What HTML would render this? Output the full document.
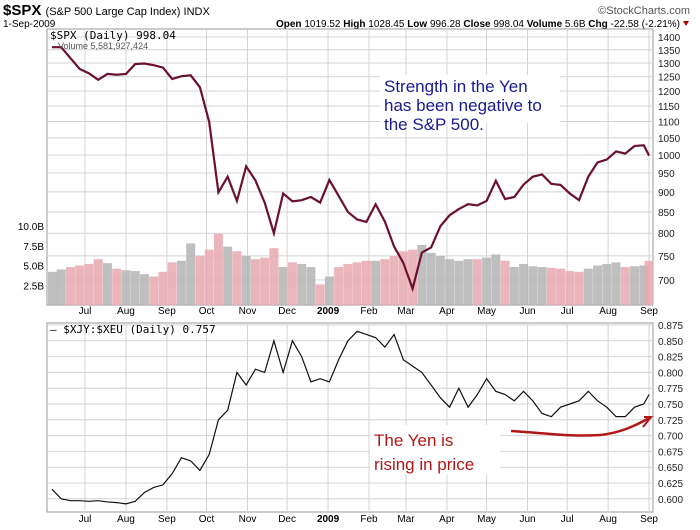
<!DOCTYPE html>
<html><head><meta charset="utf-8"><style>
body{margin:0;background:#fff;width:700px;height:530px;overflow:hidden}
svg{display:block;font-family:"Liberation Sans",sans-serif}
</style></head><body>
<svg id="c" width="700" height="530">
<g>
<text x="3" y="15" font-size="15" font-weight="bold">$SPX <tspan font-size="11" font-weight="normal">(S&amp;P 500 Large Cap Index) INDX</tspan></text>
<text x="690" y="14" font-size="11" fill="#555" text-anchor="end">©StockCharts.com</text>
<text x="3" y="27" font-size="10">1-Sep-2009</text>
<text x="680" y="27" font-size="10" text-anchor="end"><tspan font-weight="bold">Open</tspan> 1019.52 <tspan font-weight="bold">High</tspan> 1028.45 <tspan font-weight="bold">Low</tspan> 996.28 <tspan font-weight="bold">Close</tspan> 998.04 <tspan font-weight="bold">Volume</tspan> 5.6B <tspan font-weight="bold">Chg</tspan> -22.58 (-2.21%)</text>
<polygon points="683,21 689,21 686,26" fill="#a00"/>
</g>
<g id="topPanel"></g>
<g id="botPanel"></g>
<g>
<rect x="380" y="75" width="180" height="48" fill="#fff"/>
<text font-size="17" fill="#1a1a8c"><tspan x="384" y="92">Strength in the Yen</tspan><tspan x="384" y="111">has been negative to</tspan><tspan x="384" y="130">the S&amp;P 500.</tspan></text>
<rect x="370" y="425" width="130" height="50" fill="#fff"/>
<text font-size="17" fill="#b01818"><tspan x="374" y="446">The Yen is</tspan><tspan x="374" y="470">rising in price</tspan></text>
<path d="M511,431 C545,433 570,437 600,435 C620,433 635,426 651,417" stroke="#b01818" stroke-width="2.5" fill="none"/>
<path d="M643,427 L651,417 L644,417" stroke="#b01818" stroke-width="2" fill="none"/>
</g>
</svg>
<script>
const spx=[1360,1360,1318,1278,1262,1239,1260,1257,1260,1296,1298,1292,1283,1242,1252,1255,1213,1099,899,940,877,968,930,873,800,896,876,879,887,873,931,890,850,832,826,869,827,770,735,683,757,768,816,842,857,869,866,877,929,882,887,919,940,946,921,918,896,879,940,979,987,1010,1004,1026,1028,998];
const vol=[4.2,4.5,4.8,5.0,5.2,5.8,5.3,4.6,4.4,4.3,3.9,3.6,4.2,5.4,5.6,7.8,6.2,7.0,9.0,7.4,6.8,6.2,5.8,6.0,7.2,4.8,5.4,5.2,4.8,2.6,3.6,4.8,5.2,5.4,5.6,5.6,5.8,6.2,6.8,7.0,7.6,6.6,6.2,5.8,5.6,5.8,5.8,6.0,6.4,5.6,4.8,5.2,4.9,4.8,4.7,4.6,4.3,4.2,4.6,5.0,5.2,5.4,4.8,4.9,5.0,5.6];
const ratio=[0.615,0.600,0.597,0.597,0.596,0.597,0.595,0.594,0.592,0.596,0.610,0.618,0.622,0.640,0.665,0.660,0.645,0.670,0.725,0.740,0.800,0.780,0.805,0.800,0.850,0.800,0.850,0.825,0.785,0.790,0.785,0.820,0.850,0.865,0.860,0.855,0.840,0.860,0.820,0.810,0.800,0.780,0.760,0.745,0.775,0.745,0.765,0.790,0.770,0.765,0.755,0.770,0.755,0.735,0.730,0.745,0.750,0.755,0.770,0.755,0.745,0.730,0.730,0.745,0.750,0.765];
const priceTicks=[1400,1350,1300,1250,1200,1150,1100,1050,1000,950,900,850,800,750,700];
const volTicks=[10,7.5,5,2.5];
const ratioTicks=[0.875,0.85,0.825,0.8,0.775,0.75,0.725,0.7,0.675,0.65,0.625,0.6];
const monthLabels=["Jul","Aug","Sep","Oct","Nov","Dec","2009","Feb","Mar","Apr","May","Jun","Jul","Aug","Sep"];
const monthDays=[0,31,62,92,123,153,184,215,243,274,304,335,365,396,427];
const NS="http://www.w3.org/2000/svg";
const L=47,R=653;
const dayX=d=>85+d*1.321;
const idxX=i=>dayX(-25+7*i-(i===spx.length-1?3:0));
const pY=v=>37+Math.log(1400/v)*350.6;
const vY=v=>305-v*7.9;
const rY=v=>325+(0.875-v)/0.025*15.8;
function el(p,t,a){const e=document.createElementNS(NS,t);for(const k in a)e.setAttribute(k,a[k]);p.appendChild(e);return e;}
const topG=document.getElementById('topPanel'),botG=document.getElementById('botPanel');
function panel(g,y0,y1,ticks,yf,fmt,labelY){
  const f=el(g,'rect',{x:L,y:y0,width:R-L,height:y1-y0,fill:'#fff',stroke:'#999'});
  
  
  ticks.forEach(t=>{const y=yf(t);
    const l=el(g,'line',{x1:L,x2:R,y1:y,y2:y,stroke:'#d4d4d4'});
    
    
    const tx=el(g,'text',{x:658,y:y+4,'font-size':10,fill:'#222'});tx.textContent=fmt(t);
    
    });
  monthDays.forEach((d,i)=>{const x=dayX(d);
    const l=el(g,'line',{x1:x,x2:x,y1:y0,y2:y1,stroke:'#d4d4d4'});
    
    
    const tx=el(g,'text',{x:x,y:labelY,'font-size':10,'text-anchor':'middle','font-weight':monthLabels[i]==='2009'?'bold':'normal'});
    tx.textContent=monthLabels[i];
    
    });
}
panel(topG,29,305,priceTicks,pY,t=>t,314);
panel(botG,323,512,ratioTicks,rY,t=>t.toFixed(3),522);
volTicks.forEach(t=>{const tx=el(topG,'text',{x:44,y:vY(t)+4,'font-size':10,'text-anchor':'end'});tx.textContent=t.toFixed(1)+'B';
  
  });
vol.forEach((v,i)=>{const x=idxX(i);const down=i>0&&spx[i]<spx[i-1];
  const b=el(topG,'rect',{x:Math.max(L+1,x-4.5),y:vY(v),width:9,height:305-vY(v),fill:down?'#e8a8b0':'#b4b4b4',opacity:0.85});
  
  });
const pl=el(topG,'polyline',{points:spx.map((v,i)=>idxX(i)+','+pY(v)).join(' '),fill:'none',stroke:'#6a1030','stroke-width':2.2});


const rl=el(botG,'polyline',{points:ratio.map((v,i)=>idxX(i)+','+rY(v)).join(' '),fill:'none',stroke:'#111','stroke-width':1.2});


const t1=el(topG,'text',{x:50,y:39,'font-size':11,'font-family':'DejaVu Sans Mono, monospace'});t1.textContent='$SPX (Daily) 998.04';


const t2=el(topG,'text',{x:58,y:49,'font-size':9,fill:'#555'});t2.textContent='Volume 5,581,927,424';


const t3=el(botG,'text',{x:50,y:333,'font-size':11,'font-family':'DejaVu Sans Mono, monospace'});t3.textContent='– $XJY:$XEU (Daily) 0.757';


</script>
</body></html>
